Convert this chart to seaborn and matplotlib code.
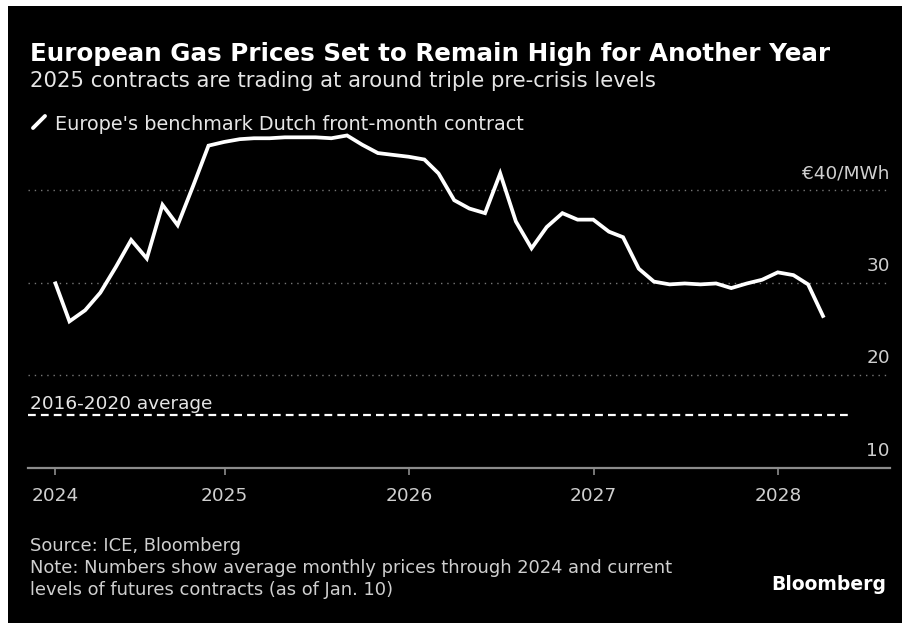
import matplotlib
matplotlib.use("Agg")
import matplotlib.pyplot as plt
from matplotlib.patches import Rectangle
from matplotlib.lines import Line2D
import seaborn as sns
import pandas as pd
import numpy as np

# ---------------- data ----------------
start_month = "2024-01-31"
prices_2024 = [30.1, 25.8, 27.0, 28.9, 31.7, 34.6, 32.6, 38.4, 36.2, 40.5, 44.8, 45.2]
prices_2025 = [45.5, 45.6, 45.6, 45.7, 45.7, 45.7, 45.6, 45.9, 44.9, 44.0, 43.8, 43.6]
prices_2026 = [43.3, 41.8, 38.9, 38.0, 37.5, 41.8, 36.6, 33.7, 36.0, 37.5, 36.8, 36.8]
prices_2027 = [35.5, 34.9, 31.5, 30.1, 29.8, 29.9, 29.8, 29.9, 29.4, 29.9, 30.3, 31.1]
prices_2028 = [30.8, 29.8, 26.2]
avg_2016_2020 = 15.7
year_labels = ["2024", "2025", "2026", "2027", "2028"]
y_ticks = [10, 20, 30, 40]
y_tick_labels = ["10", "20", "30", "€40/MWh"]

values = prices_2024 + prices_2025 + prices_2026 + prices_2027 + prices_2028
dates = pd.date_range(start_month, periods=len(values), freq="ME")
df = pd.DataFrame({"date": dates, "price": values})

# ---------------- figure ----------------
sns.set_style("dark", {"xtick.bottom": True})
plt.rcParams["font.family"] = ["DejaVu Sans"]

W, H = 902, 623
fig = plt.figure(figsize=(W / 100, H / 100), dpi=100, facecolor="white")
fig.patches.append(Rectangle((8 / W, 0), 1 - 8 / W, 1 - 6 / H, transform=fig.transFigure,
                             facecolor="black", edgecolor="none", zorder=-10))

def fx(px):
    return px / W

def fy(py):
    return 1 - py / H

ax_left, ax_right, ax_bottom, ax_top = 28, 890, 467.5, 125.3
ax = fig.add_axes([fx(ax_left), fy(ax_bottom), (ax_right - ax_left) / W, (ax_bottom - ax_top) / H])
ax.set_facecolor("none")

sns.lineplot(data=df, x="date", y="price", ax=ax, color="white", linewidth=2.7,
             solid_joinstyle="miter", solid_capstyle="butt")

x_left = dates[0] - pd.Timedelta(days=53)
x_right = pd.Timestamp("2028-01-01") + pd.Timedelta(days=221)
ax.set_xlim(x_left, x_right)
ax.set_ylim(10, 47)

# average line
ax.hlines(avg_2016_2020, x_left, pd.Timestamp("2028-05-20"), colors="white",
          linestyles=(0, (3.5, 2.3)), linewidth=1.6)
ax.text(0.002, avg_2016_2020 + 0.6, "2016-2020 average", transform=ax.get_yaxis_transform(),
        color="#e6e6e6", fontsize=13.3, ha="left", va="baseline")

# ticks
xt = [dates[0]] + [pd.Timestamp(f"{y}-01-01") for y in year_labels[1:]]
ax.set_xticks(xt)
ax.set_xticklabels(year_labels)
ax.set_yticks(y_ticks)
ax.set_yticklabels([])
ax.tick_params(axis="x", bottom=True, colors="#8c8c8c", length=5, width=1.2, direction="out",
               labelcolor="#cfcfcf", labelsize=13.3, pad=9)
ax.tick_params(axis="y", length=0, left=False)
ax.grid(axis="y", color="#767676", linestyle=(0, (1, 3.5)), linewidth=1.0)
ax.grid(axis="x", visible=False)
for s in ["top", "left", "right"]:
    ax.spines[s].set_visible(False)
ax.spines["bottom"].set_color("#8c8c8c")
ax.spines["bottom"].set_linewidth(1.6)
ax.set_xlabel("")
ax.set_ylabel("")

for v, lab in zip(y_ticks, y_tick_labels):
    ax.text(1.0, v + 1.25, lab, transform=ax.get_yaxis_transform(), ha="right", va="baseline",
            color="#cfcfcf", fontsize=13.3)

# titles
fig.text(fx(30), fy(61), "European Gas Prices Set to Remain High for Another Year",
         color="white", fontsize=17.7, fontweight="bold", ha="left", va="baseline")
fig.text(fx(30), fy(87), "2025 contracts are trading at around triple pre-crisis levels",
         color="#e6e6e6", fontsize=15.3, ha="left", va="baseline")

# legend
fig.add_artist(Line2D([fx(33), fx(45)], [fy(128), fy(116)], transform=fig.transFigure,
                      color="white", linewidth=2.8, solid_capstyle="round"))
fig.text(fx(55), fy(130), "Europe's benchmark Dutch front-month contract",
         color="#e6e6e6", fontsize=13.9, ha="left", va="baseline")

# footer
fig.text(fx(30), fy(551), "Source: ICE, Bloomberg", color="#cfcfcf", fontsize=12.9,
         ha="left", va="baseline")
fig.text(fx(30), fy(573), "Note: Numbers show average monthly prices through 2024 and current",
         color="#cfcfcf", fontsize=12.9, ha="left", va="baseline")
fig.text(fx(30), fy(595), "levels of futures contracts (as of Jan. 10)",
         color="#cfcfcf", fontsize=12.9, ha="left", va="baseline")
fig.text(fx(886), fy(590), "Bloomberg", color="white", fontsize=13.5, fontweight="bold",
         ha="right", va="baseline")

fig.savefig("out.png", dpi=100, facecolor=fig.get_facecolor())
